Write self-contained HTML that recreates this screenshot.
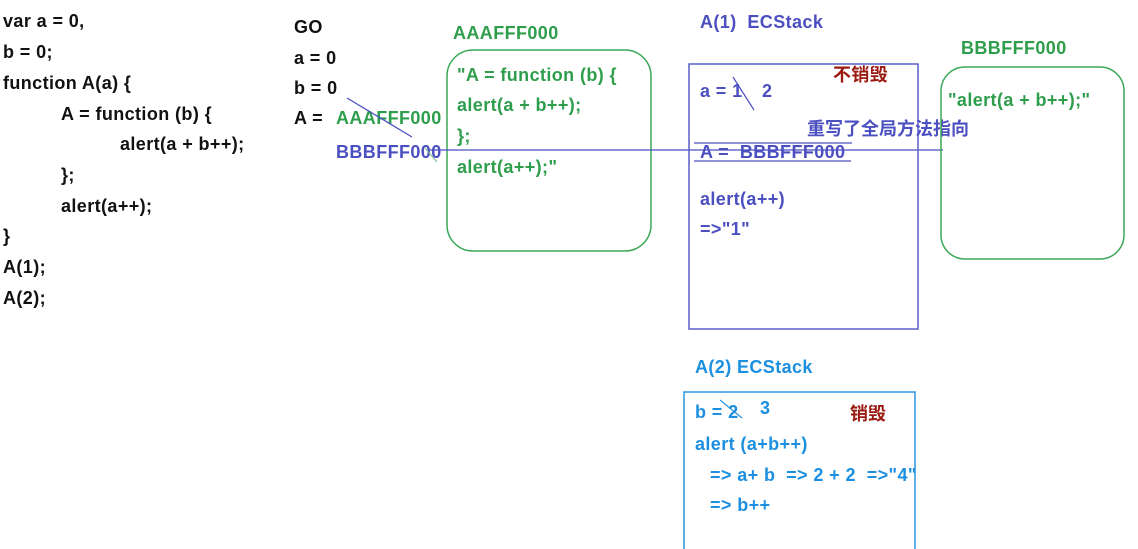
<!DOCTYPE html>
<html><head><meta charset="utf-8"><style>
html,body{margin:0;padding:0;background:#fff;}
svg{display:block;}
text{font-family:"Liberation Sans","Noto Sans CJK SC",sans-serif;font-weight:bold;font-size:18px;letter-spacing:0.4px;white-space:pre;}
.k{fill:#111;} .g{fill:#2e9e4c;} .b{fill:#4b4fc0;} .l{fill:#1c8fe0;} .r{fill:#9a1a12;}
</style></head><body>
<svg width="1138" height="549" viewBox="0 0 1138 549" xmlns="http://www.w3.org/2000/svg" xml:space="preserve">
<rect width="1138" height="549" fill="#fff"/>
<text x="3" y="27" class="k">var a = 0,</text>
<text x="3" y="58" class="k">b = 0;</text>
<text x="3" y="89" class="k">function A(a) {</text>
<text x="61" y="120" class="k">A = function (b) {</text>
<text x="120" y="150" class="k">alert(a + b++);</text>
<text x="61" y="181" class="k">};</text>
<text x="61" y="212" class="k">alert(a++);</text>
<text x="3" y="242" class="k">}</text>
<text x="3" y="273" class="k">A(1);</text>
<text x="3" y="304" class="k">A(2);</text>
<text x="294" y="33" class="k">GO</text>
<text x="294" y="64" class="k">a = 0</text>
<text x="294" y="94" class="k">b = 0</text>
<text x="294" y="124" class="k">A =</text>
<text x="336" y="124" class="g">AAAFFF000</text>
<text x="336" y="158" class="b">BBBFFF000</text>
<line x1="347" y1="98" x2="412" y2="137" stroke="#4b4fc0" stroke-width="1.3"/>
<line x1="425" y1="148" x2="437" y2="162" stroke="#7bbf8a" stroke-width="1"/>
<rect x="447" y="50" width="204" height="201" rx="26" fill="none" stroke="#3aa856" stroke-width="1.5"/>
<text x="453" y="39" class="g">AAAFFF000</text>
<text x="457" y="81" class="g">"A = function (b) {</text>
<text x="457" y="111" class="g">alert(a + b++);</text>
<text x="457" y="142" class="g">};</text>
<text x="457" y="173" class="g">alert(a++);"</text>
<line x1="430" y1="150" x2="943" y2="150" stroke="#4b4fc0" stroke-width="1.3"/>
<text x="700" y="28" class="b">A(1)  ECStack</text>
<rect x="689" y="64" width="229" height="265" fill="none" stroke="#5a5ec8" stroke-width="1.5"/>
<text x="833" y="81" class="r">不销毁</text>
<text x="700" y="97" class="b">a = 1</text>
<text x="762" y="97" class="b">2</text>
<line x1="733" y1="77" x2="754" y2="110" stroke="#4b4fc0" stroke-width="1.2"/>
<text x="807" y="135" class="b" style="letter-spacing:0">重写了全局方法指向</text>
<line x1="694" y1="143" x2="852" y2="143" stroke="#4b4fc0" stroke-width="1.3"/>
<line x1="694" y1="161" x2="851" y2="161" stroke="#4b4fc0" stroke-width="1.3"/>
<text x="700" y="158" class="b">A =  BBBFFF000</text>
<text x="700" y="205" class="b">alert(a++)</text>
<text x="700" y="235" class="b">=&gt;"1"</text>
<text x="961" y="54" class="g">BBBFFF000</text>
<rect x="941" y="67" width="183" height="192" rx="24" fill="none" stroke="#3aa856" stroke-width="1.5"/>
<text x="948" y="106" class="g">"alert(a + b++);"</text>
<text x="695" y="373" class="l">A(2) ECStack</text>
<rect x="684" y="392" width="231" height="170" fill="none" stroke="#2a96e0" stroke-width="1.5"/>
<text x="695" y="418" class="l">b = 2</text>
<text x="760" y="414" class="l">3</text>
<line x1="720" y1="400" x2="742" y2="418" stroke="#2a96e0" stroke-width="1.2"/>
<text x="850" y="420" class="r" style="letter-spacing:0">销毁</text>
<text x="695" y="450" class="l">alert (a+b++)</text>
<text x="710" y="481" class="l">=&gt; a+ b  =&gt; 2 + 2  =&gt;"4"</text>
<text x="710" y="511" class="l">=&gt; b++</text>
</svg>
</body></html>
